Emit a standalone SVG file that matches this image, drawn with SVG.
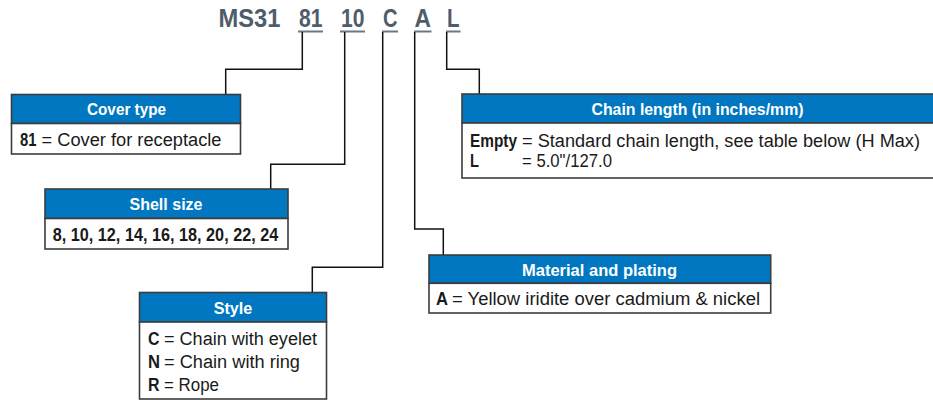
<svg xmlns="http://www.w3.org/2000/svg" width="933" height="400" viewBox="0 0 933 400">
<style>
.bg{fill:#ffffff}
.hdr{fill:#0077c0;stroke:#3c3c3c;stroke-width:1.6}
.body{fill:#ffffff;stroke:#3c3c3c;stroke-width:1.6}
.ht{font-family:"Liberation Sans",Arial,sans-serif;font-weight:bold;font-size:16.5px;fill:#ffffff;text-anchor:middle}
.bt{font-family:"Liberation Sans",Arial,sans-serif;font-size:18px;fill:#1a1a1a}
.bk{font-family:"Liberation Sans",Arial,sans-serif;font-size:18px;font-weight:bold;fill:#1a1a1a}
.title{font-family:"Liberation Sans",Arial,sans-serif;font-size:25px;font-weight:bold;fill:#4f5d6b}
.ul{stroke:#6b7884;stroke-width:2;fill:none}
.conn{stroke:#111111;stroke-width:1.5;fill:none}
</style>
<rect class="bg" x="0" y="0" width="933" height="400"/>
<g id="title">
<text class="title" x="218.5" y="27" textLength="62" lengthAdjust="spacingAndGlyphs">MS31</text>
<text class="title" x="299" y="27" textLength="23.5" lengthAdjust="spacingAndGlyphs">81</text>
<text class="title" x="341" y="27" textLength="23.5" lengthAdjust="spacingAndGlyphs">10</text>
<text class="title" x="383" y="27" textLength="14.5" lengthAdjust="spacingAndGlyphs">C</text>
<text class="title" x="414.5" y="27" textLength="16.5" lengthAdjust="spacingAndGlyphs">A</text>
<text class="title" x="447" y="27" textLength="12.5" lengthAdjust="spacingAndGlyphs">L</text>
<path class="ul" d="M298,31.5H323M340,31.5H365M382,31.5H398M414,31.5H431.5M446,31.5H460.5"/>
</g>
<g id="connectors">
<path class="conn" d="M302.3,32V69.3H225.7V94"/>
<path class="conn" d="M344.7,32V164.3H270.7V189"/>
<path class="conn" d="M382.7,32V267.3H312.3V292.3"/>
<path class="conn" d="M414.7,32V229H443.3V255"/>
<path class="conn" d="M446.7,32V69.3H479.3V94"/>
</g>
<g id="cover-type">
<rect class="hdr" x="11.5" y="94.5" width="229" height="29"/>
<rect class="body" x="11.5" y="123.5" width="229" height="30.5"/>
<text class="ht" x="126.5" y="115" textLength="79" lengthAdjust="spacingAndGlyphs">Cover type</text>
<text class="bk" x="20" y="145.5" textLength="16.5" lengthAdjust="spacingAndGlyphs">81</text>
<text class="bt" x="41.5" y="145.5" textLength="180" lengthAdjust="spacingAndGlyphs">= Cover for receptacle</text>
</g>
<g id="shell-size">
<rect class="hdr" x="45" y="189" width="243" height="29.5"/>
<rect class="body" x="45" y="218.5" width="243" height="30.5"/>
<text class="ht" x="166" y="210" textLength="73" lengthAdjust="spacingAndGlyphs">Shell size</text>
<text class="bk" x="52.7" y="241" textLength="225.6" lengthAdjust="spacingAndGlyphs">8, 10, 12, 14, 16, 18, 20, 22, 24</text>
</g>
<g id="style">
<rect class="hdr" x="139.5" y="292.5" width="187" height="29.5"/>
<rect class="body" x="139.5" y="322" width="187" height="77"/>
<text class="ht" x="233" y="313.5" textLength="38.5" lengthAdjust="spacingAndGlyphs">Style</text>
<text class="bk" x="148" y="345" textLength="11.5" lengthAdjust="spacingAndGlyphs">C</text>
<text class="bt" x="164" y="345" textLength="153" lengthAdjust="spacingAndGlyphs">= Chain with eyelet</text>
<text class="bk" x="148" y="367.5" textLength="12" lengthAdjust="spacingAndGlyphs">N</text>
<text class="bt" x="164" y="367.5" textLength="136" lengthAdjust="spacingAndGlyphs">= Chain with ring</text>
<text class="bk" x="148" y="390.5" textLength="11.5" lengthAdjust="spacingAndGlyphs">R</text>
<text class="bt" x="164" y="390.5" textLength="55" lengthAdjust="spacingAndGlyphs">= Rope</text>
</g>
<g id="material-plating">
<rect class="hdr" x="429" y="255" width="341.7" height="28.3"/>
<rect class="body" x="429" y="283.3" width="341.7" height="29.7"/>
<text class="ht" x="599.5" y="275.5" textLength="155" lengthAdjust="spacingAndGlyphs">Material and plating</text>
<text class="bk" x="436" y="305" textLength="12" lengthAdjust="spacingAndGlyphs">A</text>
<text class="bt" x="452" y="305" textLength="308" lengthAdjust="spacingAndGlyphs">= Yellow iridite over cadmium &amp; nickel</text>
</g>
<g id="chain-length">
<rect class="hdr" x="462" y="94" width="472" height="29"/>
<rect class="body" x="462" y="123" width="472" height="55"/>
<text class="ht" x="697.5" y="114.5" textLength="212" lengthAdjust="spacingAndGlyphs">Chain length (in inches/mm)</text>
<text class="bk" x="470" y="146.5" textLength="47" lengthAdjust="spacingAndGlyphs">Empty</text>
<text class="bt" x="522" y="146.5" textLength="398" lengthAdjust="spacingAndGlyphs">= Standard chain length, see table below (H Max)</text>
<text class="bk" x="470" y="166.5" textLength="9" lengthAdjust="spacingAndGlyphs">L</text>
<text class="bt" x="522" y="166.5" textLength="90" lengthAdjust="spacingAndGlyphs">= 5.0"/127.0</text>
</g>
</svg>
